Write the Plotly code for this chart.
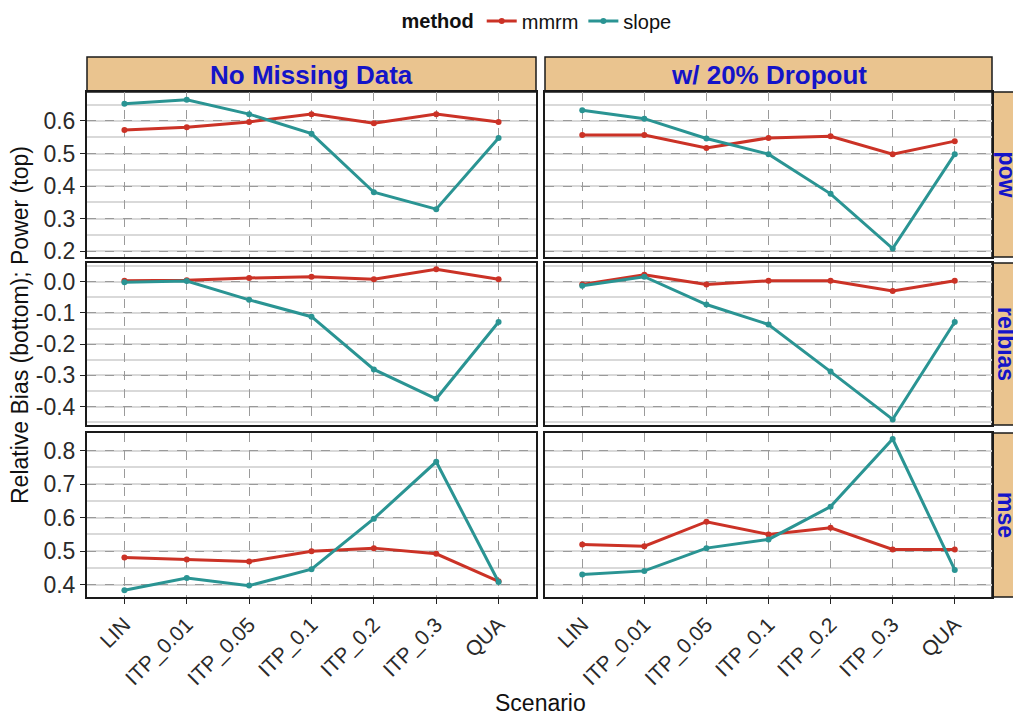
import plotly.graph_objects as go
from plotly.subplots import make_subplots

scenarios = ["LIN", "ITP_0.01", "ITP_0.05", "ITP_0.1", "ITP_0.2", "ITP_0.3", "QUA"]
columns = ["No Missing Data", "w/ 20% Dropout"]
rows = ["pow", "relbias", "mse"]
methods = ["mmrm", "slope"]

pow_nomiss_mmrm = [0.572, 0.581, 0.597, 0.621, 0.593, 0.621, 0.597]
pow_nomiss_slope = [0.653, 0.665, 0.621, 0.561, 0.381, 0.329, 0.548]
pow_drop_mmrm = [0.557, 0.557, 0.517, 0.548, 0.553, 0.498, 0.538]
pow_drop_slope = [0.633, 0.607, 0.546, 0.498, 0.376, 0.208, 0.498]
relbias_nomiss_mmrm = [0.003, 0.005, 0.012, 0.016, 0.008, 0.040, 0.008]
relbias_nomiss_slope = [-0.002, 0.002, -0.058, -0.112, -0.281, -0.375, -0.129]
relbias_drop_mmrm = [-0.009, 0.022, -0.009, 0.003, 0.003, -0.030, 0.003]
relbias_drop_slope = [-0.013, 0.016, -0.073, -0.137, -0.288, -0.441, -0.129]
mse_nomiss_mmrm = [0.481, 0.475, 0.469, 0.500, 0.509, 0.492, 0.410]
mse_nomiss_slope = [0.383, 0.420, 0.397, 0.446, 0.597, 0.767, 0.408]
mse_drop_mmrm = [0.520, 0.515, 0.588, 0.550, 0.570, 0.505, 0.505]
mse_drop_slope = [0.430, 0.441, 0.509, 0.535, 0.633, 0.835, 0.444]

data = {
    ("pow", 0): (pow_nomiss_mmrm, pow_nomiss_slope),
    ("pow", 1): (pow_drop_mmrm, pow_drop_slope),
    ("relbias", 0): (relbias_nomiss_mmrm, relbias_nomiss_slope),
    ("relbias", 1): (relbias_drop_mmrm, relbias_drop_slope),
    ("mse", 0): (mse_nomiss_mmrm, mse_nomiss_slope),
    ("mse", 1): (mse_drop_mmrm, mse_drop_slope),
}
y_ranges = {"pow": [0.182, 0.689], "relbias": [-0.459, 0.060], "mse": [0.363, 0.853]}
y_ticks = {"pow": [0.2, 0.3, 0.4, 0.5, 0.6], "relbias": [-0.4, -0.3, -0.2, -0.1, 0.0],
           "mse": [0.4, 0.5, 0.6, 0.7, 0.8]}

colors = {"mmrm": "#CB3226", "slope": "#2A9493"}

# page body has an 8px margin; work in screenshot pixels and offset
OFF = 8
W, H = 1021 - OFF, 717 - OFF
ml, mr, mt, mb = 87 - OFF, 29, 92 - OFF, 120
pw = W - ml - mr
ph = H - mt - mb
def px_x(x):
    return (x - OFF - ml) / pw
def px_y(y):
    return (H - mb - (y - OFF)) / ph

col_dom = [[px_x(87), px_x(536)], [px_x(545), px_x(992)]]
row_dom = [[px_y(257), px_y(92)], [px_y(425), px_y(263)], [px_y(597), px_y(433)]]

fig = make_subplots(rows=3, cols=2, shared_xaxes=True, shared_yaxes=True,
                    horizontal_spacing=0.01, vertical_spacing=0.01)

for ri, r in enumerate(rows):
    for ci in range(2):
        vals = data[(r, ci)]
        for mi, m in enumerate(methods):
            fig.add_trace(go.Scatter(
                x=scenarios, y=vals[mi], mode="lines+markers", name=m,
                legendgroup=m, showlegend=(ri == 0 and ci == 0),
                line=dict(color=colors[m], width=3),
                marker=dict(color=colors[m], size=6),
            ), row=ri + 1, col=ci + 1)

FAM = "Liberation Sans, Arial, sans-serif"
yfont = dict(family=FAM, size=23, color="#2a2a2a")
xfont = dict(family=FAM, size=21, color="#2a2a2a")
for ri, r in enumerate(rows):
    for ci in range(2):
        fig.update_xaxes(
            row=ri + 1, col=ci + 1, domain=col_dom[ci],
            type="category", categoryorder="array", categoryarray=scenarios,
            range=[-0.6, 6.6], showgrid=True, gridcolor="#9a9a9a", griddash="dash",
            gridwidth=1, showline=True, mirror=True, linecolor="#1a1a1a", linewidth=2,
            ticks="outside" if ri == 2 else "", ticklen=5, tickcolor="#222222",
            showticklabels=(ri == 2), tickangle=-45, tickfont=xfont, zeroline=False,
        )
        fig.update_yaxes(
            row=ri + 1, col=ci + 1, domain=row_dom[ri], range=y_ranges[r],
            tickvals=y_ticks[r], ticktext=[f"{v:.1f}" for v in y_ticks[r]],
            showgrid=True, gridcolor="#9a9a9a", griddash="dash", gridwidth=1,
            minor=dict(showgrid=True, gridcolor="#d9d9d9", gridwidth=1.5, dtick=0.05,
                       tick0=0.05, griddash="solid"),
            showline=True, mirror=True, linecolor="#1a1a1a", linewidth=2,
            ticks="outside" if ci == 0 else "", ticklen=5, tickcolor="#222222",
            showticklabels=(ci == 0), tickfont=yfont, zeroline=False,
        )

strip_fill = "#EAC48F"
top_strip_font = dict(family=FAM, size=26, color="#1414C8")
side_strip_font = dict(family=FAM, size=23, color="#1414C8")
shapes = []
annotations = []
for ci, name in enumerate(columns):
    x0, x1 = col_dom[ci]
    shapes.append(dict(type="rect", xref="paper", yref="paper", x0=x0, x1=x1,
                       y0=1.0, y1=px_y(57), fillcolor=strip_fill,
                       line=dict(color="#1a1a1a", width=1.5), layer="below"))
    annotations.append(dict(text="<b>" + name + "</b>", xref="paper", yref="paper",
                            x=(x0 + x1) / 2, y=px_y(75), showarrow=False,
                            xanchor="center", yanchor="middle", font=top_strip_font))
for ri, r in enumerate(rows):
    y0, y1 = row_dom[ri]
    shapes.append(dict(type="rect", xref="paper", yref="paper", x0=1.0, x1=px_x(1021),
                       y0=y0, y1=y1, fillcolor=strip_fill,
                       line=dict(color="#1a1a1a", width=1.5), layer="below"))
    annotations.append(dict(text="<b>" + r + "</b>", xref="paper", yref="paper",
                            x=px_x(1006), y=(y0 + y1) / 2, showarrow=False,
                            textangle=90, xanchor="center", yanchor="middle",
                            font=side_strip_font))

annotations.append(dict(text="Relative Bias (bottom); Power (top)", xref="paper",
                        yref="paper", x=px_x(20), y=px_y(325), textangle=-90,
                        showarrow=False, xanchor="center", yanchor="middle",
                        font=dict(family=FAM, size=23, color="#111111")))
annotations.append(dict(text="Scenario", xref="paper", yref="paper", x=px_x(540),
                        y=px_y(703), showarrow=False, xanchor="center",
                        yanchor="middle",
                        font=dict(family=FAM, size=23, color="#111111")))

fig.update_layout(
    width=W, height=H, autosize=False,
    margin=dict(l=ml, r=mr, t=mt, b=mb, pad=0, autoexpand=False),
    paper_bgcolor="white", plot_bgcolor="white",
    shapes=shapes, annotations=annotations,
    legend=dict(orientation="h", x=px_x(538), xanchor="center", y=px_y(21),
                yanchor="middle", title=dict(text="<b>method</b>",
                                             font=dict(size=20, color="#111111")),
                font=dict(family=FAM, size=20, color="#111111"),
                itemwidth=30, tracegroupgap=0, bgcolor="rgba(0,0,0,0)"),
    font=dict(family=FAM),
)

fig.write_html("out.html")
